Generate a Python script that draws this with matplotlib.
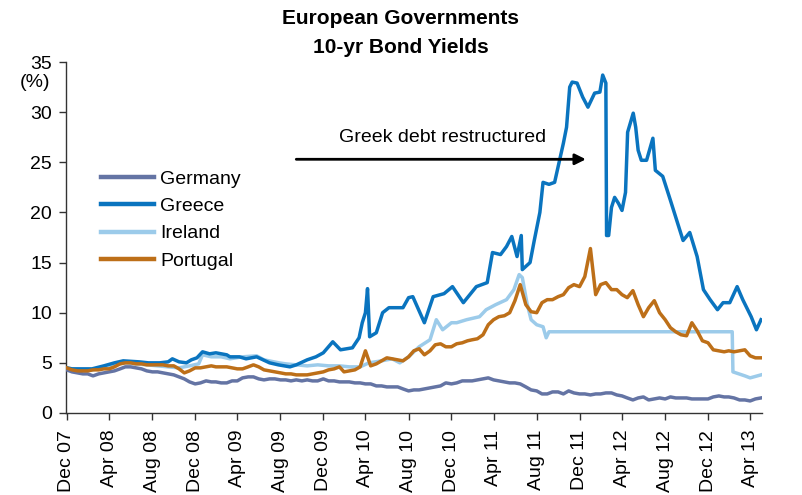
"""
European government 10-yr bond yields, Dec 2007 - May 2013.
"""

import numpy as np
import pandas as pd
import matplotlib
matplotlib.use('Agg')
import matplotlib.pyplot as plt

plt.rcParams.update({
    'font.family': ['Liberation Sans', 'DejaVu Sans'],
    'font.size': 14,
})

# semi-monthly grid (15th and month end), Dec 31 2007 .. May 31 2013
month_ends = pd.date_range('2008-01-01', '2013-06-01', freq='MS') - pd.Timedelta(days=1)
mid_months = pd.date_range('2008-01-01', '2013-05-01', freq='MS') + pd.Timedelta(days=14)
grid_dates = month_ends.append(mid_months).sort_values()

# values on grid_dates: Dec07, then per year Jan15, Jan31, Feb15, Feb end, ...
germany = [4.3,
           4.1, 4.0, 3.9, 3.9, 3.7, 3.9, 4.0, 4.1, 4.2, 4.4, 4.6, 4.6,
           4.5, 4.4, 4.2, 4.1, 4.1, 4.0, 3.9, 3.8, 3.6, 3.4, 3.1, 2.9,
           3.0, 3.2, 3.1, 3.1, 3.0, 3.0, 3.2, 3.2, 3.5, 3.6, 3.6, 3.4,
           3.3, 3.4, 3.4, 3.3, 3.3, 3.2, 3.3, 3.2, 3.3, 3.2, 3.2, 3.4,
           3.2, 3.2, 3.1, 3.1, 3.1, 3.0, 3.0, 2.9, 2.9, 2.7, 2.7, 2.6,
           2.6, 2.6, 2.4, 2.2, 2.3, 2.3, 2.4, 2.5, 2.6, 2.7, 3.0, 2.9,
           3.0, 3.2, 3.2, 3.2, 3.3, 3.4, 3.5, 3.3, 3.2, 3.1, 3.0, 3.0,
           2.9, 2.6, 2.3, 2.2, 1.9, 1.9, 2.1, 2.1, 1.9, 2.2, 2.0, 1.9,
           1.9, 1.8, 1.9, 1.9, 2.0, 2.0, 1.8, 1.7, 1.5, 1.3, 1.5, 1.6,
           1.3, 1.4, 1.5, 1.4, 1.6, 1.5, 1.5, 1.5, 1.4, 1.4, 1.4, 1.4,
           1.6, 1.7, 1.6, 1.6, 1.5, 1.3, 1.3, 1.2, 1.4, 1.5]

portugal = [4.5,
            4.3, 4.2, 4.2, 4.2, 4.3, 4.3, 4.4, 4.4, 4.6, 4.9, 5.0, 5.0,
            4.9, 4.9, 4.8, 4.8, 4.8, 4.8, 4.7, 4.7, 4.4, 4.0, 4.2, 4.5,
            4.5, 4.6, 4.7, 4.6, 4.6, 4.6, 4.5, 4.4, 4.4, 4.6, 4.8, 4.6,
            4.3, 4.2, 4.1, 4.0, 3.9, 3.9, 3.8, 3.8, 3.8, 3.9, 4.0, 4.1,
            4.3, 4.4, 4.6, 4.1, 4.2, 4.3, 4.6, 6.2, 4.7, 4.9, 5.2, 5.5,
            5.4, 5.3, 5.2, 5.6, 6.2, 6.4, 5.8, 6.2, 6.8, 6.9, 6.6, 6.6,
            6.9, 7.0, 7.2, 7.3, 7.4, 7.8, 8.8, 9.3, 9.6, 9.7, 10.0, 11.2,
            12.8, 10.8, 10.1, 10.0, 11.0, 11.3, 11.3, 11.6, 11.8, 12.5, 12.8, 12.6,
            13.6, 16.4, 11.8, 12.8, 13.0, 12.3, 12.3, 11.8, 11.5, 12.2, 10.8, 9.6,
            10.5, 11.2, 10.0, 9.3, 8.5, 8.1, 7.8, 7.7, 9.0, 8.2, 7.2, 7.0,
            6.3, 6.2, 6.1, 6.2, 6.1, 6.2, 6.3, 5.7, 5.5, 5.5]

greece_dates = ['2007-12-31', '2008-01-15', '2008-02-15', '2008-03-12', '2008-04-15',
                '2008-05-15', '2008-06-09', '2008-07-24', '2008-08-20', '2008-09-21',
                '2008-10-15', '2008-10-27', '2008-11-15', '2008-12-06', '2008-12-20',
                '2009-01-05', '2009-01-21', '2009-02-10', '2009-02-28', '2009-03-31',
                '2009-04-09', '2009-05-06', '2009-05-25', '2009-06-24', '2009-07-31',
                '2009-08-25', '2009-09-27', '2009-10-15', '2009-11-15', '2009-12-10',
                '2009-12-31', '2010-01-27', '2010-02-18', '2010-03-24', '2010-04-12',
                '2010-04-21', '2010-04-30', '2010-05-06', '2010-05-12', '2010-05-31',
                '2010-06-18', '2010-07-06', '2010-08-15', '2010-08-31', '2010-09-12',
                '2010-10-15', '2010-11-09', '2010-12-10', '2011-01-03', '2011-02-03',
                '2011-03-12', '2011-04-12', '2011-04-27', '2011-05-20', '2011-06-06',
                '2011-06-21', '2011-07-06', '2011-07-18', '2011-07-21', '2011-08-12',
                '2011-08-24', '2011-09-09', '2011-09-18', '2011-10-05', '2011-10-21',
                '2011-11-06', '2011-11-15', '2011-11-24', '2011-12-03', '2011-12-10',
                '2011-12-24', '2012-01-09', '2012-01-24', '2012-02-12', '2012-02-27',
                '2012-03-06', '2012-03-15', '2012-03-17', '2012-03-23', '2012-03-31',
                '2012-04-09', '2012-04-20', '2012-04-30', '2012-05-10', '2012-05-16',
                '2012-06-01', '2012-06-08', '2012-06-15', '2012-06-24', '2012-07-09',
                '2012-07-27', '2012-08-03', '2012-08-24', '2012-09-15', '2012-10-03',
                '2012-10-21', '2012-11-09', '2012-11-30', '2012-12-18', '2013-01-06',
                '2013-01-27', '2013-02-12', '2013-03-03', '2013-03-24', '2013-04-09',
                '2013-05-03', '2013-05-18', '2013-05-31']
greece = [4.5, 4.4, 4.4, 4.4, 4.7,
          5.0, 5.2, 5.1, 5.0, 5.0,
          5.1, 5.4, 5.1, 5.0, 5.3,
          5.5, 6.1, 5.9, 6.0, 5.8,
          5.6, 5.6, 5.4, 5.6, 5.0,
          4.8, 4.6, 4.8, 5.3, 5.6,
          6.0, 7.1, 6.3, 6.5, 7.5,
          9.0, 10.0, 12.4, 7.6, 8.0,
          10.0, 10.5, 10.5, 11.5, 11.6,
          9.0, 11.6, 11.9, 12.6, 11.0,
          12.6, 13.0, 16.0, 15.8, 16.6,
          17.6, 15.6, 17.7, 14.3, 15.0,
          17.2, 20.0, 23.0, 22.8, 23.0,
          25.5, 26.9, 28.5, 32.5, 33.0,
          32.9, 31.5, 30.5, 31.9, 32.0,
          33.7, 32.9, 17.7, 17.7, 20.5,
          21.5, 20.9, 20.2, 22.0, 28.0,
          29.9, 28.5, 26.2, 25.2, 25.2,
          27.4, 24.2, 23.6, 21.2, 19.2,
          17.2, 18.0, 15.6, 12.3, 11.3,
          10.3, 11.0, 11.0, 12.6, 11.3,
          9.6, 8.3, 9.3]

ireland_dates = ['2007-12-31', '2008-01-15', '2008-02-15', '2008-03-15', '2008-04-15',
                 '2008-05-15', '2008-06-15', '2008-07-15', '2008-08-15', '2008-09-15',
                 '2008-10-15', '2008-11-15', '2008-12-15', '2009-01-10', '2009-01-21',
                 '2009-02-15', '2009-03-15', '2009-04-09', '2009-05-15', '2009-06-24',
                 '2009-07-15', '2009-08-27', '2009-09-15', '2009-10-15', '2009-11-15',
                 '2009-12-15', '2010-01-15', '2010-02-15', '2010-03-15', '2010-04-15',
                 '2010-05-10', '2010-06-15', '2010-07-15', '2010-08-06', '2010-08-31',
                 '2010-09-30', '2010-10-31', '2010-11-18', '2010-12-06', '2010-12-31',
                 '2011-01-15', '2011-02-12', '2011-03-21', '2011-04-09', '2011-05-06',
                 '2011-06-06', '2011-06-27', '2011-07-12', '2011-07-21', '2011-08-03',
                 '2011-08-15', '2011-08-31', '2011-09-18', '2011-09-27', '2011-10-05',
                 '2013-03-10', '2013-03-12', '2013-04-15', '2013-04-30', '2013-05-31']
ireland = [4.5, 4.4, 4.3, 4.3, 4.6,
           4.8, 5.0, 4.9, 4.8, 4.7,
           4.6, 4.5, 4.7, 4.9, 5.8,
           5.6, 5.6, 5.4, 5.6, 5.7,
           5.3, 5.0, 4.9, 4.8, 4.7,
           4.8, 4.7, 4.7, 4.6, 4.6,
           5.0, 5.2, 5.4, 5.0, 5.6,
           6.6, 7.3, 9.3, 8.3, 9.0,
           9.0, 9.3, 9.6, 10.3, 10.8,
           11.3, 12.3, 13.8, 13.5, 11.0,
           9.3, 8.8, 8.6, 7.5, 8.1,
           8.1, 4.1, 3.7, 3.5, 3.8]

tick_dates = ['2007-12-31', '2008-04-30', '2008-08-31', '2008-12-31', '2009-04-30',
              '2009-08-31', '2009-12-31', '2010-04-30', '2010-08-31', '2010-12-31',
              '2011-04-30', '2011-08-31', '2011-12-31', '2012-04-30', '2012-08-31',
              '2012-12-31', '2013-04-30']
tick_labels = ['Dec 07', 'Apr 08', 'Aug 08', 'Dec 08', 'Apr 09', 'Aug 09', 'Dec 09',
               'Apr 10', 'Aug 10', 'Dec 10', 'Apr 11', 'Aug 11', 'Dec 11', 'Apr 12',
               'Aug 12', 'Dec 12', 'Apr 13']

COLORS = {
    'Germany': '#6474a4',
    'Greece': '#0a74bf',
    'Ireland': '#9ccbea',
    'Portugal': '#bd6f18',
}


def main():
    fig = plt.figure(figsize=(8.02, 4.95), dpi=100)
    ax = fig.add_axes([0.0823, 0.1657, 0.8679, 0.709])

    lw = 2.5
    ax.plot(pd.to_datetime(ireland_dates), ireland, color=COLORS['Ireland'], lw=lw, zorder=2)
    ax.plot(grid_dates, germany, color=COLORS['Germany'], lw=lw, zorder=3)
    ax.plot(pd.to_datetime(greece_dates), greece, color=COLORS['Greece'], lw=lw, zorder=4)
    ax.plot(grid_dates, portugal, color=COLORS['Portugal'], lw=lw, zorder=5)

    # legend in series order
    handles = [plt.Line2D([], [], color=COLORS[k], lw=3.2) for k in COLORS]
    ax.legend(handles, list(COLORS), loc='upper left', bbox_to_anchor=(0.039, 0.714),
              frameon=False, handlelength=2.75, handletextpad=0.3, labelspacing=0.5,
              fontsize=14, borderaxespad=0)

    # annotation
    ax.annotate('', xy=(pd.Timestamp('2012-01-18'), 25.3),
                xytext=(pd.Timestamp('2009-10-15'), 25.3),
                arrowprops=dict(arrowstyle='-|>', color='black', lw=2.0,
                                mutation_scale=16, shrinkA=0, shrinkB=0),
                zorder=6)
    ax.text(pd.Timestamp('2010-12-05'), 27.5, 'Greek debt restructured',
            ha='center', va='center', fontsize=14)

    ax.set_ylim(0, 35)
    ax.set_yticks(np.arange(0, 36, 5))
    ax.set_xlim(pd.Timestamp('2007-12-29'), pd.Timestamp('2013-06-03'))
    ax.set_xticks(pd.to_datetime(tick_dates))
    ax.set_xticklabels(tick_labels, rotation=90)

    for side in ('top', 'right'):
        ax.spines[side].set_visible(False)
    for side in ('left', 'bottom'):
        ax.spines[side].set_linewidth(1.0)
        ax.spines[side].set_color('#333333')
    ax.tick_params(axis='both', direction='out', length=5, width=1.0,
                   color='#333333', labelsize=14)
    ax.tick_params(axis='x', pad=7)
    ax.tick_params(axis='y', pad=5)

    ax.text(-0.0445, 0.943, '(%)', transform=ax.transAxes, ha='center', va='center',
            fontsize=14)

    fig.text(0.5, 0.982, 'European Governments\n10-yr Bond Yields', ha='center',
             va='top', fontsize=15, fontweight='bold', linespacing=1.7)

    fig.savefig('out.png', dpi=100)
    plt.close(fig)


if __name__ == "__main__":
    main()
